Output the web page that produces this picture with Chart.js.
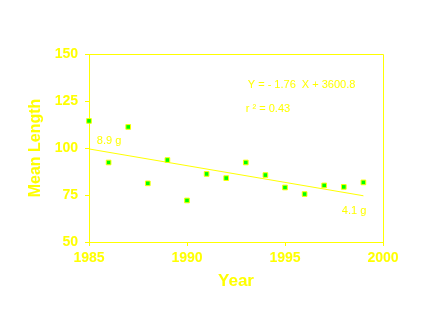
<!DOCTYPE html>
<html>
<head>
<meta charset="utf-8">
<script src="https://cdn.jsdelivr.net/npm/chart.js@4"></script>
<style>
  body { margin: 0; background: #fff; }
  canvas { display: block; }
</style>
</head>
<body>
<canvas id="chart" width="427" height="320"></canvas>
<script>
const years = [1985, 1986, 1987, 1988, 1989, 1990, 1991, 1992, 1993, 1994, 1995, 1996, 1997, 1998, 1999];
const meanLength = [114.4, 92.3, 111.2, 81.2, 93.6, 72.1, 86.2, 84.0, 92.3, 85.6, 79.0, 75.5, 80.1, 79.3, 81.7];

// fitted line
const trendYears = [1985, 1999];
const trendValues = [99.5, 74.6];

// text notes: [text, year, value]
const notes = [
  ["Y = - 1.76  X + 3600.8", 1993.1, 133.7],
  ["r ² = 0.43", 1993.0, 121.0],
  ["8.9 g", 1985.4, 103.9],
  ["4.1 g", 1997.9, 66.6]
];

const yellow = "#ffff00";
const font = "'Liberation Sans', Arial, sans-serif";

// frame on top and right side + the text notes
const extras = {
  id: "extras",
  afterDraw(chart) {
    const { ctx, chartArea: a, scales } = chart;
    ctx.save();
    ctx.strokeStyle = yellow;
    ctx.lineWidth = 1;
    ctx.beginPath();
    ctx.moveTo(a.left, a.top + 0.5);
    ctx.lineTo(a.right + 0.5, a.top + 0.5);
    ctx.lineTo(a.right + 0.5, a.bottom);
    ctx.stroke();

    ctx.fillStyle = yellow;
    ctx.font = "11px " + font;
    ctx.textBaseline = "middle";
    notes.forEach(n => {
      ctx.fillText(n[0], scales.x.getPixelForValue(n[1]), scales.y.getPixelForValue(n[2]));
    });
    ctx.restore();
  }
};

new Chart(document.getElementById("chart"), {
  type: "scatter",
  data: {
    datasets: [
      {
        label: "Mean Length",
        data: years.map((y, i) => ({ x: y, y: meanLength[i] })),
        pointStyle: "rect",
        pointRadius: 3.3,
        backgroundColor: "#00ff00",
        borderColor: yellow,
        borderWidth: 1,
        clip: false
      },
      {
        label: "Trend",
        type: "line",
        data: trendYears.map((y, i) => ({ x: y, y: trendValues[i] })),
        borderColor: yellow,
        borderWidth: 1,
        pointRadius: 0,
        fill: false
      }
    ]
  },
  options: {
    responsive: false,
    animation: false,
    layout: { padding: { left: 0, right: 44, top: 54, bottom: 28 } },
    plugins: { legend: { display: false }, tooltip: { enabled: false } },
    scales: {
      x: {
        type: "linear",
        min: 1985,
        max: 2000,
        afterFit: s => { s.height = 50; },
        ticks: {
          stepSize: 5,
          color: yellow,
          padding: 4,
          font: { family: font, size: 14, weight: "bold" },
          callback: v => String(v)
        },
        grid: { drawOnChartArea: false, color: yellow, tickLength: 4 },
        border: { color: yellow, width: 1 },
        title: {
          display: true,
          text: "Year",
          color: yellow,
          padding: { top: 0, bottom: 0 },
          font: { family: font, size: 17, weight: "bold" }
        }
      },
      y: {
        min: 50,
        max: 150,
        afterFit: s => { s.width = 89; },
        ticks: {
          stepSize: 25,
          color: yellow,
          padding: 7,
          font: { family: font, size: 14, weight: "bold" }
        },
        grid: { drawOnChartArea: false, color: yellow, tickLength: 4 },
        border: { color: yellow, width: 1 },
        title: {
          display: true,
          text: "Mean Length",
          color: yellow,
          padding: { top: 26, bottom: 0 },
          font: { family: font, size: 16, weight: "bold" }
        }
      }
    }
  },
  plugins: [extras]
});
</script>
</body>
</html>
